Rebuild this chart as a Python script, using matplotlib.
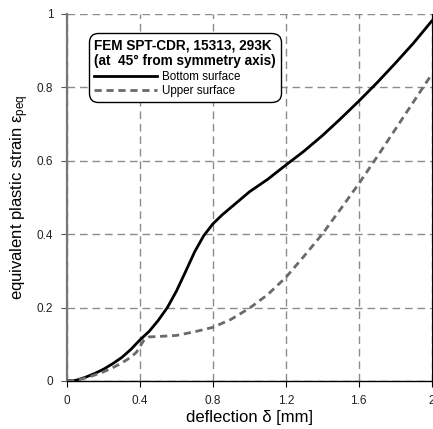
import matplotlib
matplotlib.use('Agg')
import matplotlib.pyplot as plt
from matplotlib.pyplot import rc

rc('font', family='Liberation Sans')
rc('mathtext', fontset='custom', rm='Liberation Sans', it='Liberation Sans:italic')

# deflection [mm] and equivalent plastic strain
defl_bottom = [0.0, 0.05, 0.1, 0.15, 0.2, 0.25, 0.3, 0.35, 0.4, 0.45, 0.5, 0.55, 0.6, 0.65,
               0.7, 0.75, 0.8, 0.85, 0.9, 0.95, 1.0, 1.1, 1.2, 1.3, 1.4, 1.5, 1.6, 1.7,
               1.8, 1.9, 2.0]
strain_bottom = [0.0, 0.002, 0.01, 0.02, 0.032, 0.047, 0.064, 0.086, 0.112, 0.135, 0.165,
                 0.2, 0.245, 0.298, 0.352, 0.396, 0.428, 0.452, 0.473, 0.494, 0.515, 0.549,
                 0.588, 0.626, 0.668, 0.714, 0.762, 0.812, 0.865, 0.92, 0.98]

defl_upper = [0.0, 0.05, 0.1, 0.15, 0.2, 0.25, 0.3, 0.35, 0.38, 0.4, 0.42, 0.45, 0.5, 0.6,
              0.7, 0.8, 0.9, 1.0, 1.1, 1.2, 1.3, 1.4, 1.5, 1.6, 1.7, 1.8, 1.9, 2.0]
strain_upper = [0.0, 0.002, 0.008, 0.016, 0.025, 0.036, 0.049, 0.065, 0.078, 0.094, 0.11,
                0.12, 0.121, 0.124, 0.134, 0.146, 0.168, 0.198, 0.235, 0.282, 0.34, 0.4,
                0.468, 0.537, 0.61, 0.685, 0.76, 0.835]

xticks = [0, 0.4, 0.8, 1.2, 1.6, 2]
xticklabels = ['0', '0.4', '0.8', '1.2', '1.6', '2']
yticks = [0, 0.2, 0.4, 0.6, 0.8, 1]
yticklabels = ['0', '0.2', '0.4', '0.6', '0.8', '1']

fig = plt.figure(figsize=(4.33, 4.29), dpi=100)
ax = fig.add_axes([0.155, 0.112, 0.842, 0.856])

ax.plot(defl_bottom, strain_bottom, color='black', lw=2, label='Bottom surface', zorder=3)
ax.plot(defl_upper, strain_upper, color='#6a6a6a', lw=2, dashes=(2.6, 1.7),
        label='Upper surface', zorder=3)

ax.set_xlim(0, 2)
ax.set_ylim(0, 1)
ax.set_xticks(xticks)
ax.set_xticklabels(xticklabels)
ax.set_yticks(yticks)
ax.set_yticklabels(yticklabels)
ax.grid(True, color='#8c8c8c', lw=1, dashes=(5.5, 3.5))

ax.spines['top'].set_visible(False)
ax.spines['right'].set_linewidth(0.8)
ax.spines['left'].set_color('#777777')
ax.spines['left'].set_linewidth(1.6)
ax.spines['bottom'].set_linewidth(1.0)
ax.tick_params(axis='both', labelsize=8.5, direction='out', length=4, pad=6)
ax.tick_params(axis='y', colors='#555555', labelcolor='#222222', right=True)
ax.tick_params(axis='x', colors='black', labelcolor='#222222')
for t in ax.yaxis.get_major_ticks():
    t.tick2line.set_markersize(3)

ax.set_xlabel('deflection δ [mm]', fontsize=12, labelpad=2)
ax.set_ylabel(r'equivalent plastic strain ε$_{\rm peq}$', fontsize=12, labelpad=4)

leg = ax.legend(title='FEM SPT-CDR, 15313, 293K\n(at  45° from symmetry axis)',
                loc='upper left', bbox_to_anchor=(0.059, 0.948), borderaxespad=0,
                fontsize=8.4, alignment='left', handlelength=5.4, handletextpad=0.4,
                labelspacing=0.2, borderpad=0.45, fancybox=True, framealpha=1,
                title_fontproperties={'weight': 'bold', 'size': 9.8})
frame = leg.get_frame()
frame.set_edgecolor('black')
frame.set_linewidth(1)
frame.set_boxstyle('round', pad=0.0, rounding_size=0.8)
leg.set_zorder(5)

fig.savefig('out.png', dpi=100)
